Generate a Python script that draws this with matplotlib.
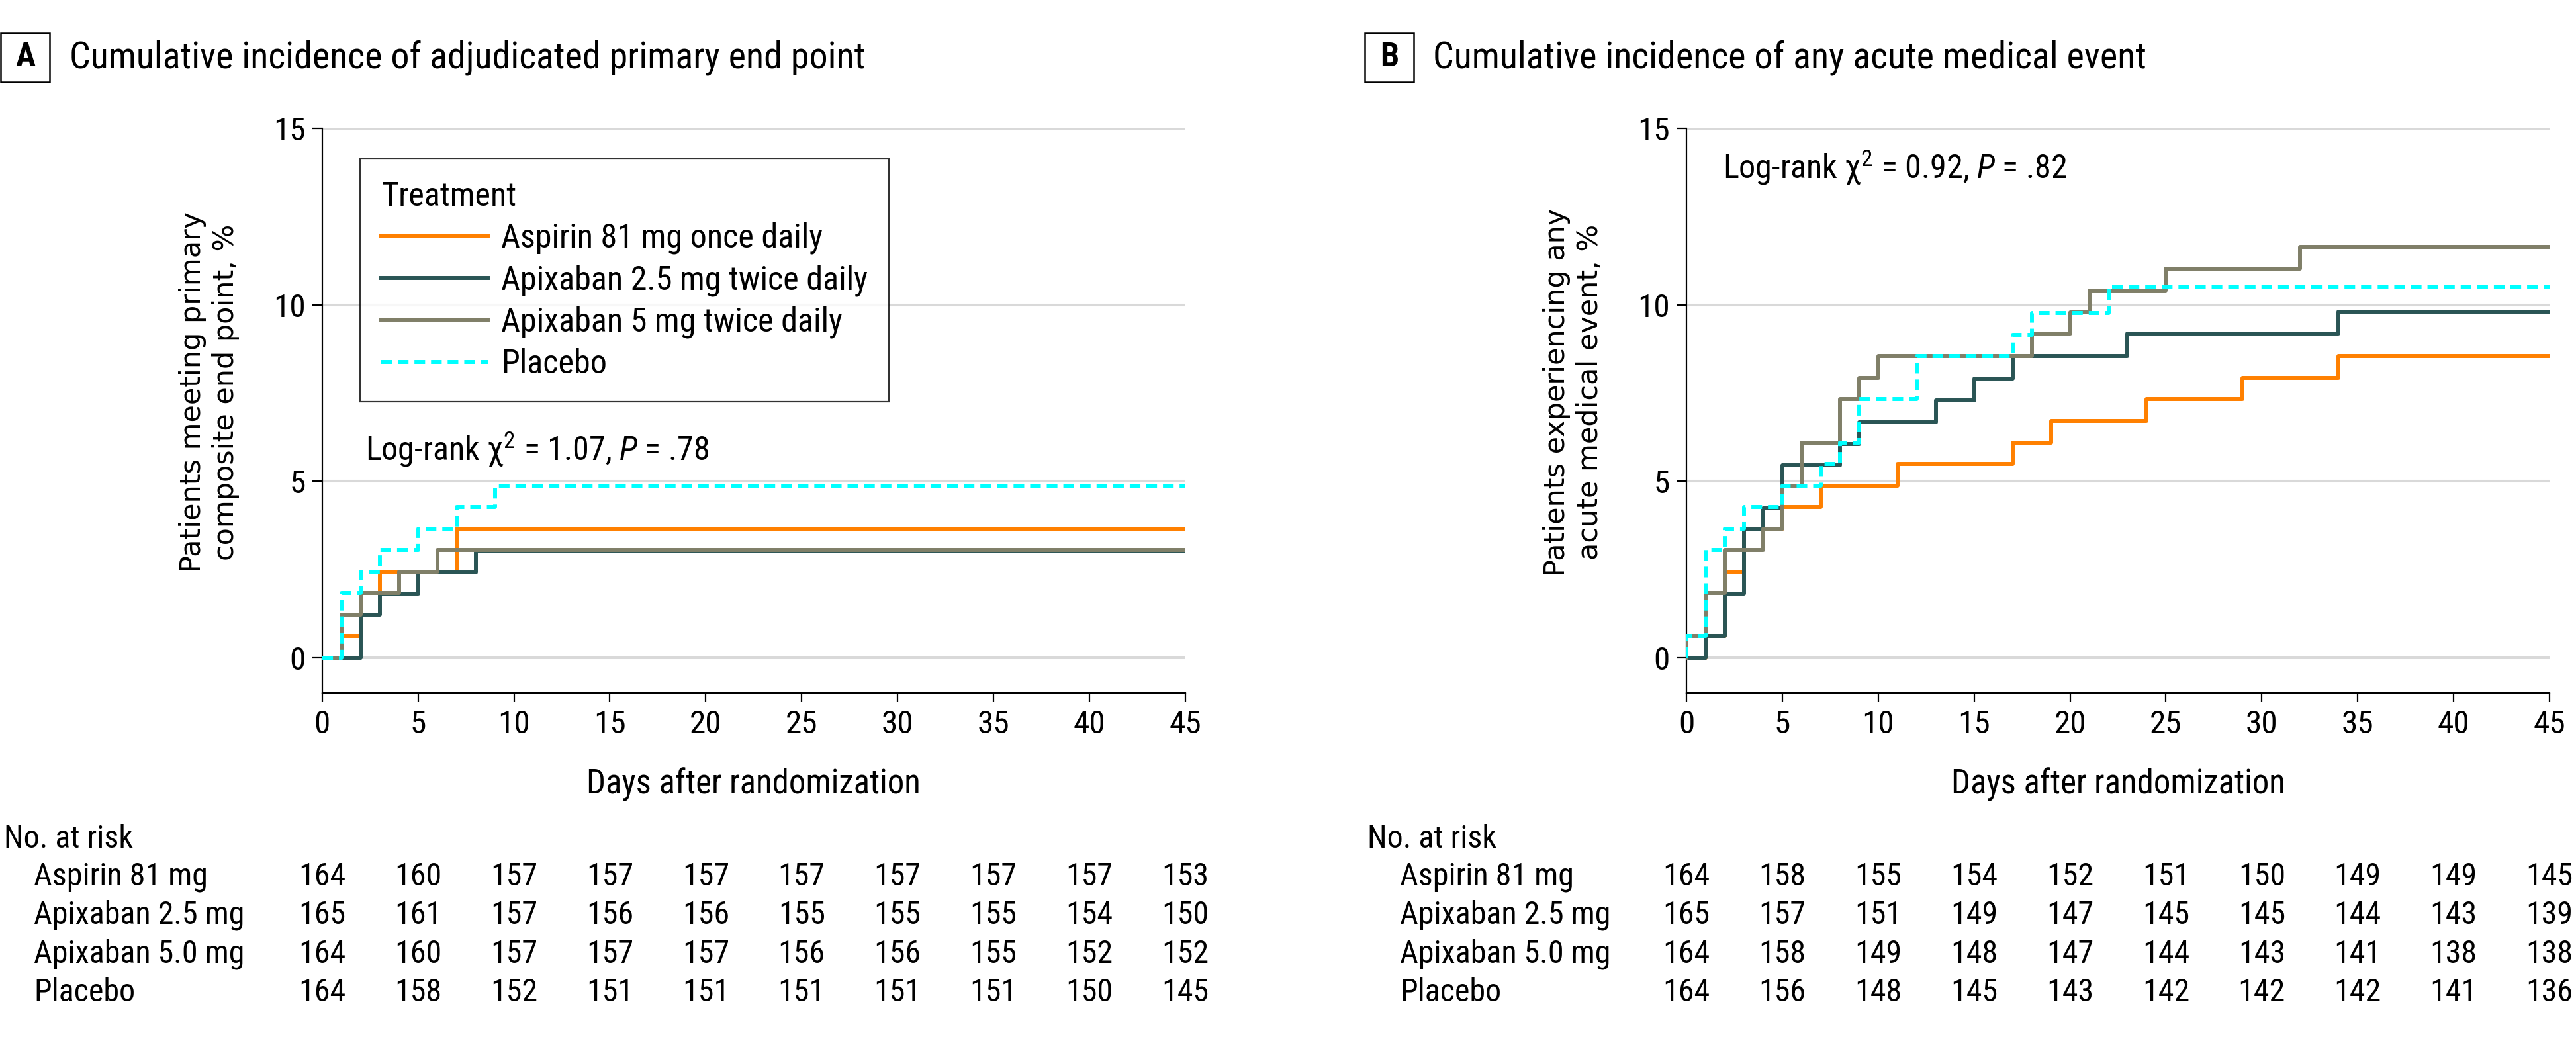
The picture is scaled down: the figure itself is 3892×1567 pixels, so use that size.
import os
import matplotlib
matplotlib.use("Agg")
import matplotlib.pyplot as plt
import matplotlib.patches as mpatches
import matplotlib.transforms as mtransforms
from matplotlib import font_manager as fm

# ---- data ----
treatments = ['Aspirin 81 mg once daily', 'Apixaban 2.5 mg twice daily',
              'Apixaban 5 mg twice daily', 'Placebo']
risk_labels = ['Aspirin 81 mg', 'Apixaban 2.5 mg', 'Apixaban 5.0 mg', 'Placebo']
colors = ['#ff8000', '#2a5555', '#807f68', '#00ffff']
risk_days = [0, 5, 10, 15, 20, 25, 30, 35, 40, 45]

# panel A: adjudicated primary end point (event day, cumulative %)
aspirin_a_days = [0, 1, 2, 3, 7]
aspirin_a_pct = [0, 0.61, 1.83, 2.44, 3.66]
apix25_a_days = [0, 2, 3, 5, 8]
apix25_a_pct = [0, 1.21, 1.82, 2.42, 3.03]
apix5_a_days = [0, 1, 2, 4, 6]
apix5_a_pct = [0, 1.22, 1.83, 2.44, 3.05]
placebo_a_days = [0, 1, 2, 3, 5, 7, 9]
placebo_a_pct = [0, 1.83, 2.44, 3.05, 3.66, 4.27, 4.88]

# panel B: any acute medical event
aspirin_b_days = [0, 1, 2, 3, 5, 7, 11, 17, 19, 24, 29, 34]
aspirin_b_pct = [0, 0.61, 2.44, 3.66, 4.27, 4.88, 5.49, 6.10, 6.71, 7.32, 7.93, 8.54]
apix25_b_days = [0, 1, 2, 3, 4, 5, 8, 9, 13, 15, 17, 23, 34]
apix25_b_pct = [0, 0.61, 1.82, 3.64, 4.24, 5.45, 6.06, 6.67, 7.30, 7.91, 8.55, 9.18, 9.81]
apix5_b_days = [0, 0, 1, 2, 4, 5, 6, 8, 9, 10, 18, 20, 21, 25, 32]
apix5_b_pct = [0, 0.61, 1.83, 3.05, 3.66, 4.88, 6.10, 7.32, 7.93, 8.54, 9.18, 9.79, 10.40, 11.02, 11.65]
placebo_b_days = [0, 0, 1, 2, 3, 5, 7, 8, 9, 12, 17, 18, 22]
placebo_b_pct = [0, 0.61, 3.05, 3.66, 4.27, 4.88, 5.49, 6.10, 7.32, 8.54, 9.15, 9.76, 10.52]

# numbers at risk
risk_a = [
    [164, 160, 157, 157, 157, 157, 157, 157, 157, 153],
    [165, 161, 157, 156, 156, 155, 155, 155, 154, 150],
    [164, 160, 157, 157, 157, 156, 156, 155, 152, 152],
    [164, 158, 152, 151, 151, 151, 151, 151, 150, 145],
]
risk_b = [
    [164, 158, 155, 154, 152, 151, 150, 149, 149, 145],
    [165, 157, 151, 149, 147, 145, 145, 144, 143, 139],
    [164, 158, 149, 148, 147, 144, 143, 141, 138, 138],
    [164, 156, 148, 145, 143, 142, 142, 142, 141, 136],
]

# ---- pick a narrow sans if one is installed ----
fonts = fm.fontManager.ttflist
fam, stretch = None, 'normal'
for name in ['Liberation Sans Narrow', 'DejaVu Sans Condensed', 'Roboto Condensed',
             'Open Sans Condensed', 'Noto Sans Condensed', 'Arial Narrow']:
    if any(f.name == name for f in fonts):
        fam = name
        break
if fam is None:
    for f in fonts:
        b = os.path.basename(f.fname).lower()
        if ('condensed' in b or 'narrow' in b) and 'bold' not in b and 'italic' not in b \
                and 'oblique' not in b and 'light' not in b:
            fam, stretch = f.name, f.stretch
            break
if fam is None:
    fam = 'Roboto' if any(f.name == 'Roboto' for f in fonts) else 'DejaVu Sans'

plt.rcParams['font.family'] = [fam, 'DejaVu Sans']
plt.rcParams['font.stretch'] = stretch
spec = fam if stretch == 'normal' else fam + ':stretch=' + str(stretch)
plt.rcParams['mathtext.fontset'] = 'custom'
plt.rcParams['mathtext.rm'] = spec
plt.rcParams['mathtext.it'] = spec + ':italic'

fig = plt.figure(figsize=(38.92, 15.67), dpi=100, facecolor='white')

# scale text so the panel title has the reference width (1202 px)
renderer = fig.canvas.get_renderer()
probe = fig.text(0, 0, 'Cumulative incidence of adjudicated primary end point',
                 fontsize=38.5)
k = 1202.0 / probe.get_window_extent(renderer).width
probe.remove()
k = min(k, 1.15)
FS_TITLE = 38.5 * k
FS = 33 * k
FS_LEG = 34.5 * k


def km_panel(left, curves, risk, letter, title, ylabel, logrank, logrank_xy,
             box_x, title_x, table_x, label_x, legend=False):
    ax = fig.add_axes([left, 0.3318, 0.3350, 0.5444])
    for i, (days, pct) in enumerate(curves):
        x = list(days) + [45]
        y = list(pct) + [pct[-1]]
        kw = dict(color=colors[i], lw=4.3, zorder=2 + i, label=treatments[i])
        if i == 3:
            kw['dashes'] = (2.7, 1.5)
        ax.step(x, y, where='post', **kw)

    ax.set_xlim(0, 45)
    ax.set_ylim(-1, 15)
    ax.set_xticks(range(0, 46, 5))
    ax.set_yticks([0, 5, 10, 15])
    ax.yaxis.grid(True, color='#d9d9d9', lw=2.9)
    ax.set_axisbelow(True)
    for s in ['top', 'right']:
        ax.spines[s].set_visible(False)
    for s in ['left', 'bottom']:
        ax.spines[s].set_linewidth(1.6)
    ax.tick_params(axis='y', length=11, width=1.6, pad=7, labelsize=FS * 1.03)
    ax.tick_params(axis='x', length=10, width=1.6, pad=8, labelsize=FS * 1.03)
    ax.set_xlabel('Days after randomization', fontsize=FS * 1.06, labelpad=30)
    ax.text(-0.131, 0.533, ylabel, transform=ax.transAxes, rotation=90,
            ha='center', va='center', fontsize=31, family='DejaVu Sans',
            stretch='normal', linespacing=1.25)
    ax.text(logrank_xy[0], logrank_xy[1], logrank, transform=ax.transAxes,
            fontsize=FS_LEG, va='center', ha='left')

    if legend:
        leg = ax.legend(title='Treatment', loc='upper left',
                        bbox_to_anchor=(0.0435, 0.946), borderaxespad=0,
                        fontsize=FS_LEG, title_fontsize=FS_LEG, alignment='left',
                        frameon=True, fancybox=False, edgecolor='black',
                        handlelength=3.2, handletextpad=0.4, labelspacing=0.3,
                        borderpad=0.65)
        leg.get_frame().set_linewidth(1.6)

    # panel letter box and title
    fig.add_artist(mpatches.Rectangle((box_x, 0.9209), 0.019, 0.0472,
                                      transform=fig.transFigure, fill=False,
                                      ec='black', lw=1.8))
    fig.text(box_x + 0.0095, 0.9445, letter, ha='center', va='center',
             fontsize=FS_TITLE * 0.9, fontweight='bold')
    fig.text(title_x, 0.9445, title, ha='left', va='center', fontsize=FS_TITLE)

    # number at risk table
    fig.text(table_x, 0.1908, 'No. at risk', ha='left', va='center', fontsize=FS)
    row_y = [0.1544, 0.1174, 0.0798, 0.0428]
    tr = mtransforms.blended_transform_factory(ax.transData, fig.transFigure)
    for lab, counts, yy in zip(risk_labels, risk, row_y):
        fig.text(label_x, yy, lab, ha='left', va='center', fontsize=FS)
        for d, n in zip(risk_days, counts):
            ax.text(d, yy, str(n), transform=tr, ha='center', va='center',
                    fontsize=FS, clip_on=False)
    return ax


km_panel(0.1251,
         [(aspirin_a_days, aspirin_a_pct), (apix25_a_days, apix25_a_pct),
          (apix5_a_days, apix5_a_pct), (placebo_a_days, placebo_a_pct)],
         risk_a, 'A', 'Cumulative incidence of adjudicated primary end point',
         'Patients meeting primary\ncomposite end point, %',
         r'Log-rank χ$^2$ = 1.07, $\mathit{P}$ = .78', (0.0498, 0.431),
         0.0003, 0.027, 0.0015, 0.0131, legend=True)

km_panel(0.6547,
         [(aspirin_b_days, aspirin_b_pct), (apix25_b_days, apix25_b_pct),
          (apix5_b_days, apix5_b_pct), (placebo_b_days, placebo_b_pct)],
         risk_b, 'B', 'Cumulative incidence of any acute medical event',
         'Patients experiencing any\nacute medical event, %',
         r'Log-rank χ$^2$ = 0.92, $\mathit{P}$ = .82', (0.042, 0.931),
         0.5298, 0.5563, 0.5308, 0.5434)

fig.savefig('out.png', dpi=100, facecolor='white')
